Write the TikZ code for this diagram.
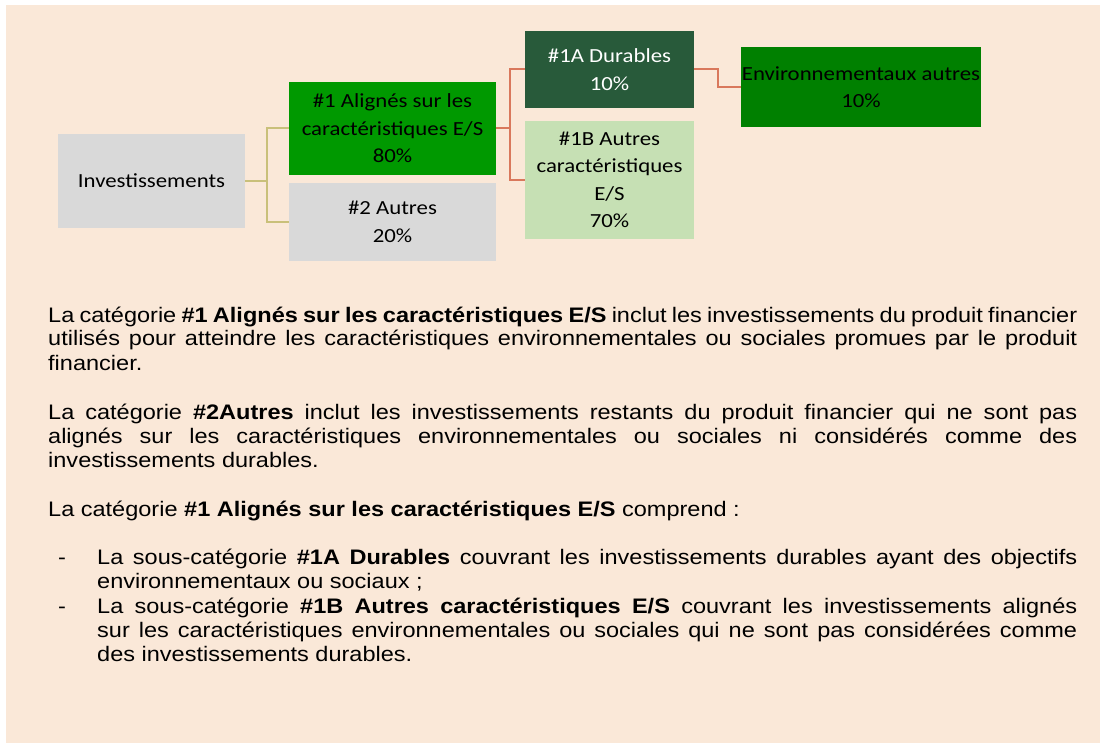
\documentclass[tikz,border=0pt]{standalone}
\usepackage{fontspec}
\setmainfont{Liberation Sans}[FakeStretch=1.12]
\newfontfamily\diagfont{Carlito}[FakeStretch=1.14]
\definecolor{bgc}{HTML}{FAE8D8}
\definecolor{grayc}{HTML}{D9D9D9}
\definecolor{greenA}{HTML}{009900}
\definecolor{darkgreen}{HTML}{285A3A}
\definecolor{lightgreen}{HTML}{C6E0B4}
\definecolor{envgreen}{HTML}{008000}
\definecolor{olivec}{HTML}{C9C07A}
\definecolor{orangec}{HTML}{D9785C}
\newcommand{\bodyfont}{\fontsize{21}{24}\selectfont}
\tikzset{
  box/.style={rectangle, inner sep=0pt, align=center, font=\diagfont\fontsize{20}{27.5}\selectfont},
  oline/.style={draw=olivec, line width=2pt},
  rline/.style={draw=orangec, line width=2pt},
  para/.style={inner sep=0pt, anchor=base west, align=justify, font=\bodyfont},
}
\begin{document}
\begin{tikzpicture}[x=1pt,y=-1pt]
\useasboundingbox (0,0) rectangle (1100,743);
\fill[bgc] (6,5) rectangle (1100,743);

% diagram
\node[box, fill=grayc, minimum width=187pt, minimum height=94pt] (inv) at (151.5,181) {Investissements};
\node[box, fill=greenA, minimum width=207pt, minimum height=93pt] (a1) at (392.5,128.5) {\#1 Alignés sur les\\caractéristiques E/S\\80\%};
\node[box, fill=grayc, minimum width=207pt, minimum height=78pt] (a2) at (392.5,222) {\#2 Autres\\20\%};
\node[box, fill=darkgreen, text=white, minimum width=169pt, minimum height=77pt] (a1A) at (609.5,69.5) {\#1A Durables\\10\%};
\node[box, fill=lightgreen, minimum width=169pt, minimum height=118pt] (a1B) at (609.5,180) {\#1B Autres\\caractéristiques\\E/S\\70\%};
\node[box, fill=envgreen, minimum width=240pt, minimum height=80pt] (env) at (861,87) {Environnementaux autres\\10\%};

\draw[oline] (a1.west) -- ++(-22,0) |- (inv.east);
\draw[oline] (a2.west) -- ++(-22,0) |- (inv.east);
\draw[rline] (a1A.west) -- ++(-15,0) |- (a1.east);
\draw[rline] (a1B.west) -- ++(-15,0) |- (a1.east);
\draw[rline] (a1A.east) -- ++(24,0) |- (env.west);

% text
\node[para, text width=1029pt] (p1) at (48,322) {La catégorie \textbf{\#1 Alignés sur les caractéristiques E/S} inclut les investissements du produit financier\linebreak utilisés pour atteindre les caractéristiques environnementales ou sociales promues par le produit\linebreak financier.};
\node[para, text width=1029pt] (p2) at (48,419) {La catégorie \textbf{\#2Autres} inclut les investissements restants du produit financier qui ne sont pas\linebreak alignés sur les caractéristiques environnementales ou sociales ni considérés comme des\linebreak investissements durables.};
\node[para, text width=1029pt] (p3) at (48,516) {La catégorie \textbf{\#1 Alignés sur les caractéristiques E/S} comprend :};
\node[para] (d1) at (58,564) {-};
\node[para, text width=980pt] (b1) at (97,564) {La sous-catégorie \textbf{\#1A Durables} couvrant les investissements durables ayant des objectifs\linebreak environnementaux ou sociaux ;};
\node[para] (d2) at (58,613) {-};
\node[para, text width=980pt] (b2) at (97,613) {La sous-catégorie \textbf{\#1B Autres caractéristiques E/S} couvrant les investissements alignés\linebreak sur les caractéristiques environnementales ou sociales qui ne sont pas considérées comme\linebreak des investissements durables.};
\end{tikzpicture}
\end{document}
